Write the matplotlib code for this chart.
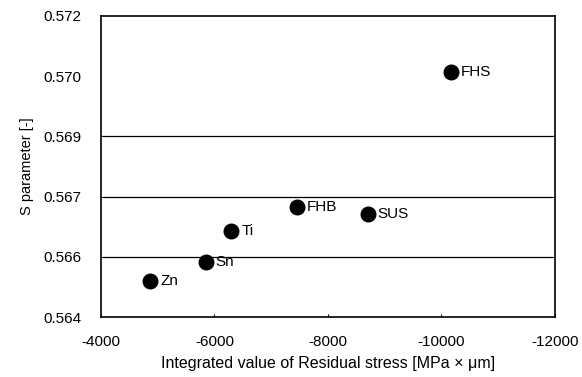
import matplotlib.pyplot as plt
from matplotlib.ticker import FormatStrFormatter

plt.rcParams['font.family'] = ['Liberation Sans', 'DejaVu Sans']
plt.rcParams['axes.unicode_minus'] = False

materials = ['Zn', 'Sn', 'Ti', 'FHB', 'SUS', 'FHS']
residual_stress = [-4870, -5850, -6300, -7450, -8700, -10170]
s_param = [0.56496, 0.56547, 0.56629, 0.56692, 0.56674, 0.57051]

x_ticks = [-4000, -6000, -8000, -10000, -12000]
y_ticks = [0.564, 0.5656, 0.5672, 0.5688, 0.5704, 0.572]
grid_y = [0.5656, 0.5672, 0.5688]

fig = plt.figure(figsize=(5.82, 3.77), dpi=100)
ax = fig.add_axes([0.1735, 0.159, 0.78, 0.799])

for g in grid_y:
    ax.axhline(g, color='black', lw=0.9, zorder=1)

ax.scatter(residual_stress, s_param, s=110, color='black', zorder=3)
for name, x, y in zip(materials, residual_stress, s_param):
    ax.annotate(name, (x, y), xytext=(7, 0), textcoords='offset points',
                va='center', ha='left', fontsize=11)

ax.set_xlim(-4000, -12000)
ax.set_ylim(0.564, 0.572)
ax.set_xticks(x_ticks)
ax.set_yticks(y_ticks)
ax.yaxis.set_major_formatter(FormatStrFormatter('%.3f'))
ax.tick_params(axis='x', direction='in', length=2, width=0.8, labelsize=11, pad=13)
ax.tick_params(axis='y', length=0, labelsize=11, pad=14)
for sp in ax.spines.values():
    sp.set_linewidth(1.2)
    sp.set_color('black')

ax.set_xlabel('Integrated value of Residual stress [MPa \u00d7 \u03bcm]', fontsize=11.5, labelpad=5)
ax.set_ylabel('S parameter [-]', fontsize=10.5, labelpad=7)

fig.savefig('out.png', dpi=100)
